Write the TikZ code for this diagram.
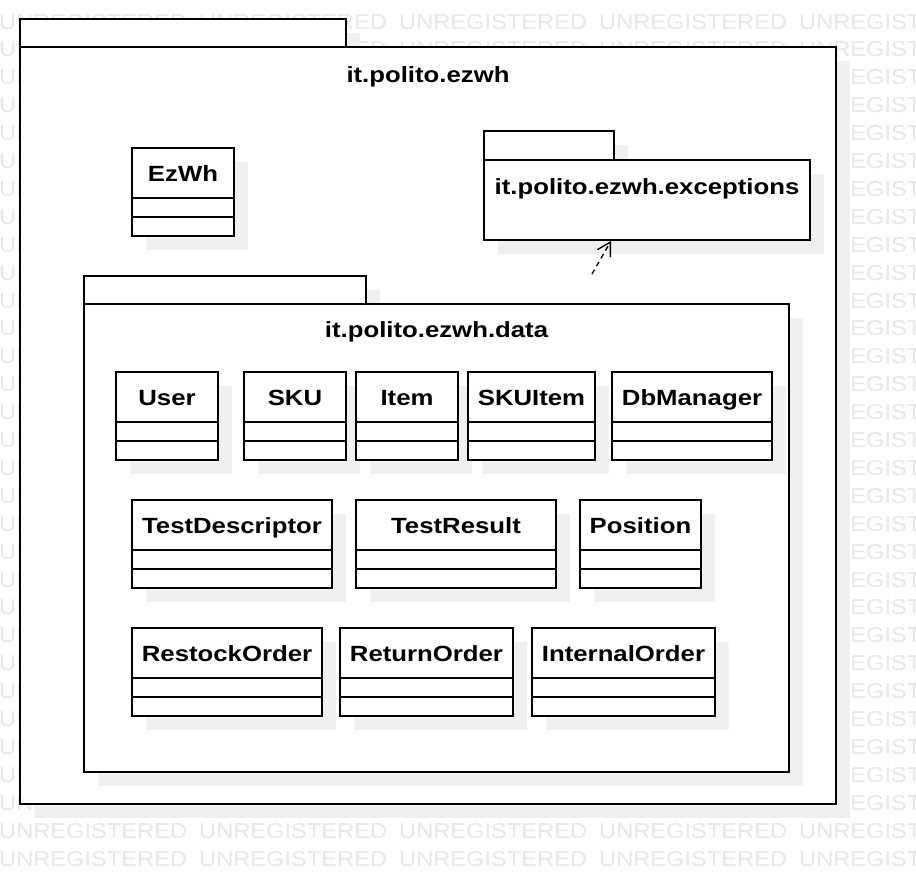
\documentclass[tikz,border=0pt]{standalone}
\usepackage{fontspec}
\usetikzlibrary{arrows.meta}
\newfontfamily\lblfont{Liberation Sans}[FakeStretch=1.17]
\newfontfamily\wmfont{Liberation Sans}[FakeStretch=1.1]
\definecolor{shadowc}{HTML}{F0F0F0}
\definecolor{wmc}{HTML}{E8E8E8}
\def\classlist{User/116/218/372/User, SKU/244/346/372/SKU, Item/356/458/372/Item, SKUItem/468/595/372/SKUItem, DbManager/612/772/372/DbManager, TestDescriptor/132/332/500/TestDescriptor, TestResult/356/556/500/TestResult, Position/580/701/500/Position, RestockOrder/132/322/628/RestockOrder, ReturnOrder/340/513/628/ReturnOrder, InternalOrder/532/715/628/InternalOrder}
\begin{document}
\begin{tikzpicture}[x=1pt,y=-1pt,
  box/.style={draw=black, fill=white, line width=2pt, inner sep=0pt, outer sep=0pt, anchor=north west},
  lbl/.style={font=\lblfont\bfseries\fontsize{22}{26}\selectfont, inner sep=0pt, anchor=base},
  wm/.style={font=\wmfont\fontsize{21.5}{24}\selectfont, text=wmc, inner sep=0pt, anchor=base west},
  shadowfill/.style={fill=shadowc},
  divider/.style={line width=2pt},
  dep/.style={line width=1.3pt, dash pattern=on 5pt off 4pt, -{Straight Barb[length=13pt,width=15pt]}}]
\clip (0,0) rectangle (916,884);
\fill[white] (0,0) rectangle (916,884);
% watermark
\foreach \r in {0,...,30} {\foreach \c in {0,...,4} {\node[wm] (wm-\r-\c) at (\c*200-1, 29+27.9*\r) {UNREGISTERED};}}
% outer package
\fill[shadowfill] (34,33) rectangle (360,61);
\fill[shadowfill] (34,61) rectangle (850,818);
\node[box, minimum width=326pt, minimum height=28pt] (ezwhtab) at (20,19) {};
\node[box, minimum width=816pt, minimum height=757pt] (ezwh) at (20,47) {};
\node[lbl] (ezwhlbl) at (428,82) {it.polito.ezwh};
% shadows of level 2
\fill[shadowfill] (498,145) rectangle (628,174);
\fill[shadowfill] (498,174) rectangle (824,254);
\fill[shadowfill] (98,290) rectangle (380,318);
\fill[shadowfill] (98,318) rectangle (803,786);
\fill[shadowfill] (146,162) rectangle (248,250);
% exceptions package
\node[box, minimum width=130pt, minimum height=29pt] (exctab) at (484,131) {};
\node[box, minimum width=326pt, minimum height=80pt] (exc) at (484,160) {};
\node[lbl] (exclbl) at (647,194) {it.polito.ezwh.exceptions};
% data package
\node[box, minimum width=282pt, minimum height=28pt] (datatab) at (84,276) {};
\node[box, minimum width=705pt, minimum height=468pt] (data) at (84,304) {};
\node[lbl] (datalbl) at (436.5,337) {it.polito.ezwh.data};
% EzWh class
\node[box, minimum width=102pt, minimum height=88pt] (EzWh) at (132,148) {};
\draw[divider] ([yshift=-50pt]EzWh.north west) -- ([yshift=-50pt]EzWh.north east);
\draw[divider] ([yshift=-69pt]EzWh.north west) -- ([yshift=-69pt]EzWh.north east);
\node[lbl] (EzWh-name) at (183,181) {EzWh};
% class shadows
\foreach \n/\xa/\xb/\ya/\lab in \classlist {\fill[shadowfill] (\xa+14,\ya+14) rectangle (\xb+14,\ya+102);}
% classes
\foreach \n/\xa/\xb/\ya/\lab in \classlist {
  \pgfmathsetmacro\w{\xb-\xa}
  \node[box, minimum width=\w pt, minimum height=88pt] (\n) at (\xa,\ya) {};
  \draw[divider] ([yshift=-50pt]\n.north west) -- ([yshift=-50pt]\n.north east);
  \draw[divider] ([yshift=-69pt]\n.north west) -- ([yshift=-69pt]\n.north east);
  \node[lbl] (\n-name) at ({(\xa+\xb)/2},\ya+33) {\lab};
}
% dependency
\coordinate (depstart) at (592,274);
\draw[dep] (depstart) -- ([xshift=-36pt,yshift=-1pt]exc.south);
\end{tikzpicture}
\end{document}
